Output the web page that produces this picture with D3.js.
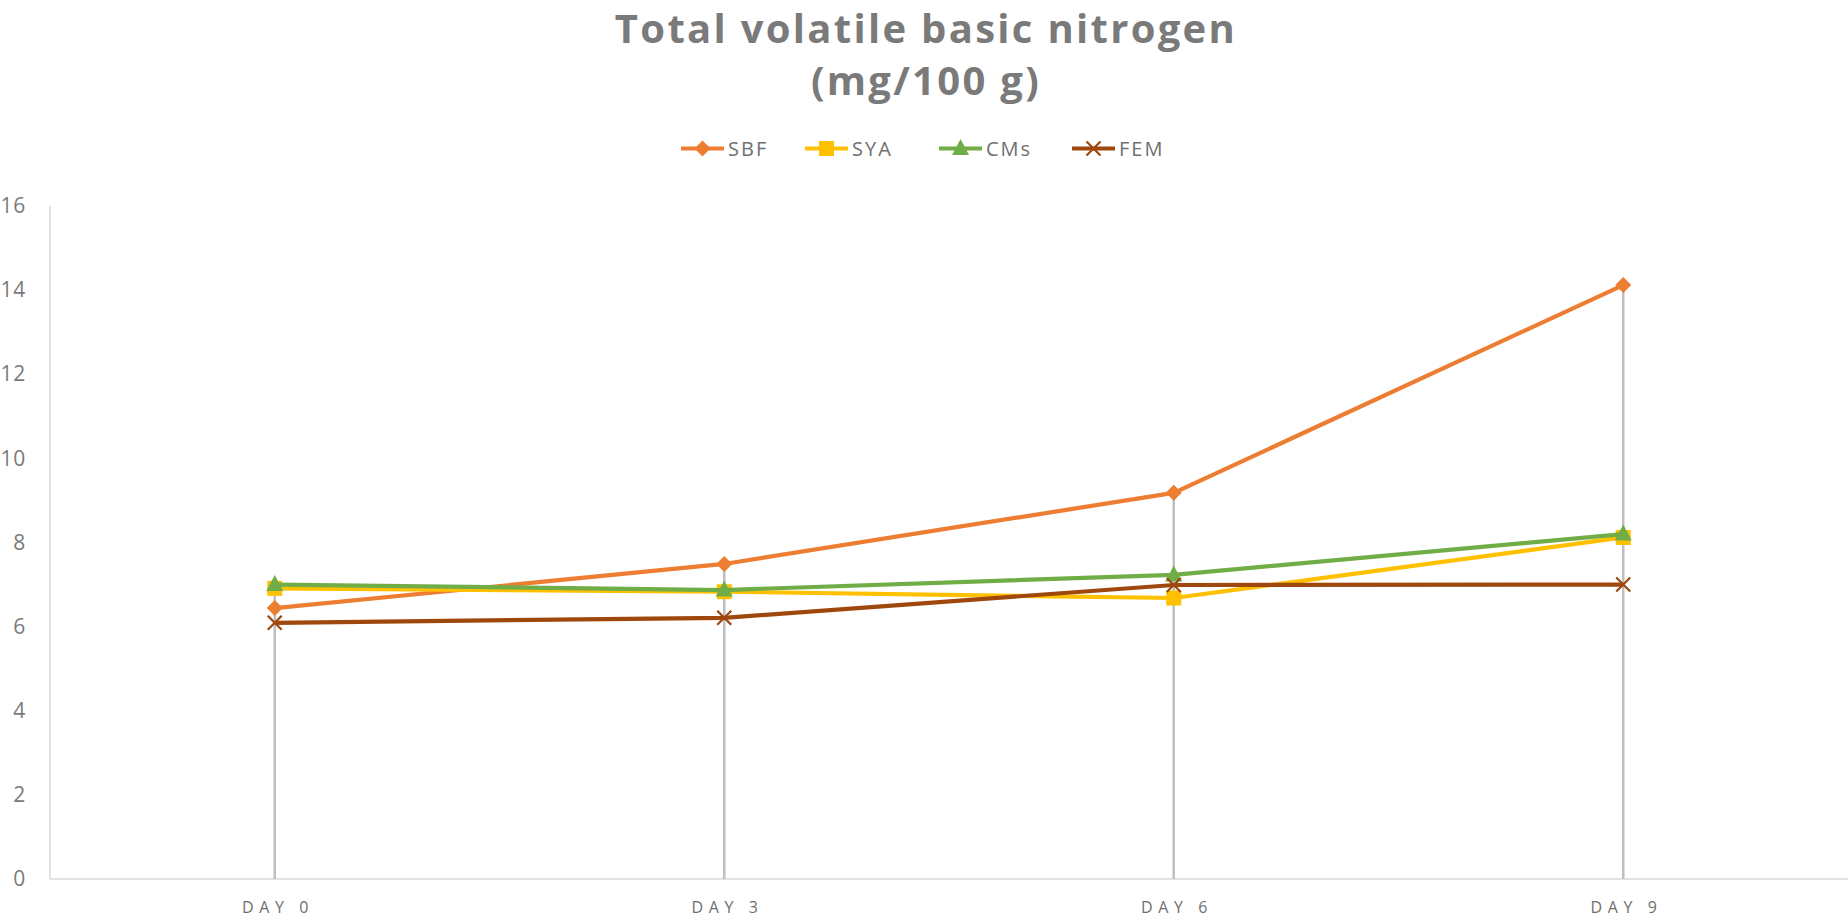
<!DOCTYPE html>
<html>
<head>
<meta charset="utf-8">
<script src="https://cdn.jsdelivr.net/npm/d3@7"></script>
<style>
html,body{margin:0;padding:0;background:#fff;}
svg{display:block;font-family:"Open Sans","DejaVu Sans",sans-serif;}
</style>
</head>
<body>
<svg id="chart" width="1848" height="919"></svg>
<script>
const categories = ["DAY 0", "DAY 3", "DAY 6", "DAY 9"];
const seriesNames = ["SBF", "SYA", "CMs", "FEM"];
const sbf = [6.44, 7.49, 9.18, 14.12];
const sya = [6.91, 6.83, 6.68, 8.12];
const cms = [7.00, 6.87, 7.23, 8.20];
const fem = [6.09, 6.21, 6.99, 7.00];
const yTicks = [0, 2, 4, 6, 8, 10, 12, 14, 16];
const colors = ["#ED7D31", "#FFC000", "#70AD47", "#9E480E"];
const markers = ["diamond", "square", "triangle", "x"];

const series = seriesNames.map((n, i) => ({name: n, values: [sbf, sya, cms, fem][i], color: colors[i], marker: markers[i]}));

const svg = d3.select("#chart");
const plotL = 50, plotR = 1848, plotT = 206, plotB = 879;

const x = d3.scalePoint().domain(categories).range([plotL, plotR]).padding(0.5);
const y = d3.scaleLinear().domain([0, 16]).range([plotB, plotT]);

// Title
const title = svg.append("g").attr("fill", "#7a7a7a").attr("font-weight", "bold").attr("text-anchor", "middle");
title.append("text").attr("x", 926).attr("y", 43).attr("font-size", 40).attr("letter-spacing", 2.3).text("Total volatile basic nitrogen");
title.append("text").attr("x", 926).attr("y", 95).attr("font-size", 40).attr("letter-spacing", 2.3).text("(mg/100 g)");

// axes lines
svg.append("line").attr("x1", plotL).attr("x2", plotL).attr("y1", plotT).attr("y2", plotB).attr("stroke", "#d9d9d9").attr("stroke-width", 1.5);
svg.append("line").attr("x1", plotL).attr("x2", plotR).attr("y1", plotB).attr("y2", plotB).attr("stroke", "#d9d9d9").attr("stroke-width", 1.5);

// Y axis labels
const yAxis = d3.axisLeft(y).tickValues(yTicks).tickSize(0).tickPadding(24).tickFormat(d3.format("d"));
const ya = svg.append("g").attr("transform", `translate(${plotL},0)`).call(yAxis);
ya.select(".domain").remove();
ya.selectAll("text").attr("font-size", 21).attr("fill", "#7a7a7a").attr("letter-spacing", 0.8).attr("font-family", "'Open Sans', sans-serif");

// X axis labels
const xAxis = d3.axisBottom(x).tickSize(0).tickPadding(23);
const xa = svg.append("g").attr("transform", `translate(0,${plotB})`).call(xAxis);
xa.select(".domain").remove();
xa.selectAll("text").attr("font-size", 16).attr("fill", "#6f6f6f").attr("letter-spacing", 5.6).attr("dx", 2.8).attr("font-family", "'Open Sans', sans-serif");

// drop lines
const drop = svg.append("g");
categories.forEach((c, i) => {
  const mx = d3.max(series, s => s.values[i]);
  drop.append("line").attr("x1", x(c)).attr("x2", x(c)).attr("y1", y(mx)).attr("y2", plotB)
    .attr("stroke", "#bfbfbf").attr("stroke-width", 2.5);
});

const line = d3.line().x((d, i) => x(categories[i])).y(d => y(d));

function drawMarker(g, type, cx, cy, color) {
  if (type === "diamond") {
    g.append("path").attr("d", `M${cx},${cy-8}L${cx+8},${cy}L${cx},${cy+8}L${cx-8},${cy}Z`).attr("fill", color);
  } else if (type === "square") {
    g.append("rect").attr("x", cx-7.5).attr("y", cy-7.5).attr("width", 15).attr("height", 15).attr("fill", color);
  } else if (type === "triangle") {
    g.append("path").attr("d", `M${cx},${cy-9.5}L${cx+8.5},${cy+6.5}L${cx-8.5},${cy+6.5}Z`).attr("fill", color);
  } else {
    g.append("path").attr("d", `M${cx-7},${cy-7}L${cx+7},${cy+7}M${cx+7},${cy-7}L${cx-7},${cy+7}`).attr("stroke", color).attr("stroke-width", 2.2).attr("fill", "none");
  }
}

series.forEach(s => {
  const g = svg.append("g");
  g.append("path").datum(s.values).attr("d", line).attr("fill", "none").attr("stroke", s.color).attr("stroke-width", 4.2).attr("stroke-linejoin", "round");
  s.values.forEach((v, i) => drawMarker(g, s.marker, x(categories[i]), y(v), s.color));
});

// Legend
const legendX = [681, 805, 939, 1072];
const lg = svg.append("g");
series.forEach((s, i) => {
  const g = lg.append("g").attr("transform", `translate(${legendX[i]},148.5)`);
  g.append("line").attr("x1", 0).attr("x2", 43).attr("y1", 0).attr("y2", 0).attr("stroke", s.color).attr("stroke-width", 4.2);
  drawMarker(g, s.marker, 21.5, 0, s.color);
  g.append("text").attr("x", 47).attr("y", 7).attr("font-size", 20).attr("letter-spacing", 2).attr("fill", "#6f6f6f").text(s.name);
});
</script>
</body>
</html>
